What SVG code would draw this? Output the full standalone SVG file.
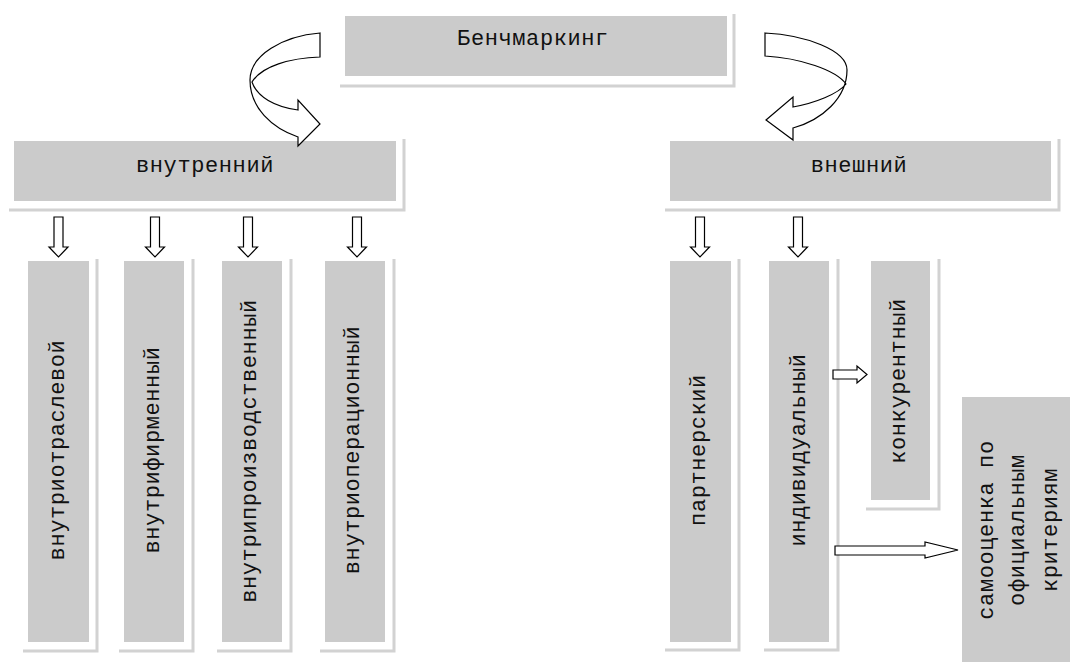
<svg xmlns="http://www.w3.org/2000/svg" width="1075" height="668" viewBox="0 0 1075 668">
<style>
.box{fill:#cbcbcb;}
.sh{fill:none;stroke:#d2d2d2;stroke-width:3;}
.t{font-family:"Liberation Mono",monospace;font-size:22px;letter-spacing:0.6px;fill:#111;text-anchor:middle;}
.ar{fill:#fff;stroke:#000;stroke-width:1.2;stroke-linejoin:miter;}
</style>
<rect width="1075" height="668" fill="#fff"/>
<g id="n-bench">
<rect class="box" x="345" y="16" width="382" height="60"/>
<polyline class="sh" points="340,86 734,86 734,14"/>
<text class="t" x="533" y="45">Бенчмаркинг</text>
</g>
<g id="n-inner">
<rect class="box" x="14" y="141" width="382" height="60"/>
<polyline class="sh" points="9,210 404,210 404,139"/>
<text class="t" x="205" y="172">внутренний</text>
</g>
<g id="n-outer">
<rect class="box" x="670" y="141" width="381" height="60"/>
<polyline class="sh" points="665,210 1059,210 1059,139"/>
<text class="t" x="859" y="172">внешний</text>
</g>
<g id="n-v1">
<rect class="box" x="28" y="261" width="61" height="381"/>
<polyline class="sh" points="23,651 97,651 97,259"/>
<text class="t" transform="translate(64,450) rotate(-90)">внутриотраслевой</text>
</g>
<g id="n-v2">
<rect class="box" x="124" y="261" width="60" height="381"/>
<polyline class="sh" points="119,651 193,651 193,259"/>
<text class="t" transform="translate(159,450) rotate(-90)">внутрифирменный</text>
</g>
<g id="n-v3">
<rect class="box" x="222" y="261" width="60" height="381"/>
<polyline class="sh" points="217,651 291,651 291,259"/>
<text class="t" transform="translate(256,451) rotate(-90)">внутрипроизводственный</text>
</g>
<g id="n-v4">
<rect class="box" x="325" y="261" width="60" height="381"/>
<polyline class="sh" points="320,651 394,651 394,259"/>
<text class="t" transform="translate(359,450) rotate(-90)">внутриоперационный</text>
</g>
<g id="n-partner">
<rect class="box" x="670" y="261" width="61" height="381"/>
<polyline class="sh" points="665,650 739,650 739,259"/>
<text class="t" transform="translate(705,450) rotate(-90)">партнерский</text>
</g>
<g id="n-indiv">
<rect class="box" x="769" y="261" width="60" height="381"/>
<polyline class="sh" points="764,650 838,650 838,259"/>
<text class="t" transform="translate(805,450) rotate(-90)">индивидуальный</text>
</g>
<g id="n-konk">
<rect class="box" x="871" y="261" width="59" height="239"/>
<polyline class="sh" points="866,509 939,509 939,259"/>
<text class="t" transform="translate(905,381) rotate(-90)">конкурентный</text>
</g>
<g id="n-self">
<rect class="box" x="962" y="397" width="108" height="265"/>
<text class="t" transform="translate(993,530) rotate(-90)">самооценка по</text>
<text class="t" transform="translate(1024,530) rotate(-90)">официальным</text>
<text class="t" transform="translate(1057,530) rotate(-90)">критериям</text>
</g>
<g id="connectors">
<path class="ar" d="M320,33 C283,36 250,55 250,80 C250,108 272,128 298,137 L298,146 L320,124 L298,100 L298,110 C275,107 257,97 252,82 C262,66 290,58 320,57 Z"/>
<path class="ar" d="M765,33 C805,35 847,50 847,70 C847,98 822,120 793,128 L793,140 L766,120 L793,97 L793,107 C815,103 838,94 846,84 C836,70 800,58 765,56 Z"/>
<path class="ar" d="M54,217 H63 V247 H68 L58.5,257 L49,247 H54 Z"/>
<path class="ar" d="M150.5,217 H159.5 V247 H164.5 L155,257 L145.5,247 H150.5 Z"/>
<path class="ar" d="M243.5,217 H252.5 V247 H257.5 L248,257 L238.5,247 H243.5 Z"/>
<path class="ar" d="M352.5,217 H361.5 V247 H366.5 L357,257 L347.5,247 H352.5 Z"/>
<path class="ar" d="M695.5,217 H704.5 V247 H709.5 L700,257 L690.5,247 H695.5 Z"/>
<path class="ar" d="M793.5,217 H802.5 V247 H807.5 L798,257 L788.5,247 H793.5 Z"/>
<path class="ar" d="M833,370 H857 V366 L867,374.5 L857,383 V379 H833 Z"/>
<path class="ar" d="M835,546 H925 V542 L958,550 L925,558 V555 H835 Z"/>
</g>
</svg>
